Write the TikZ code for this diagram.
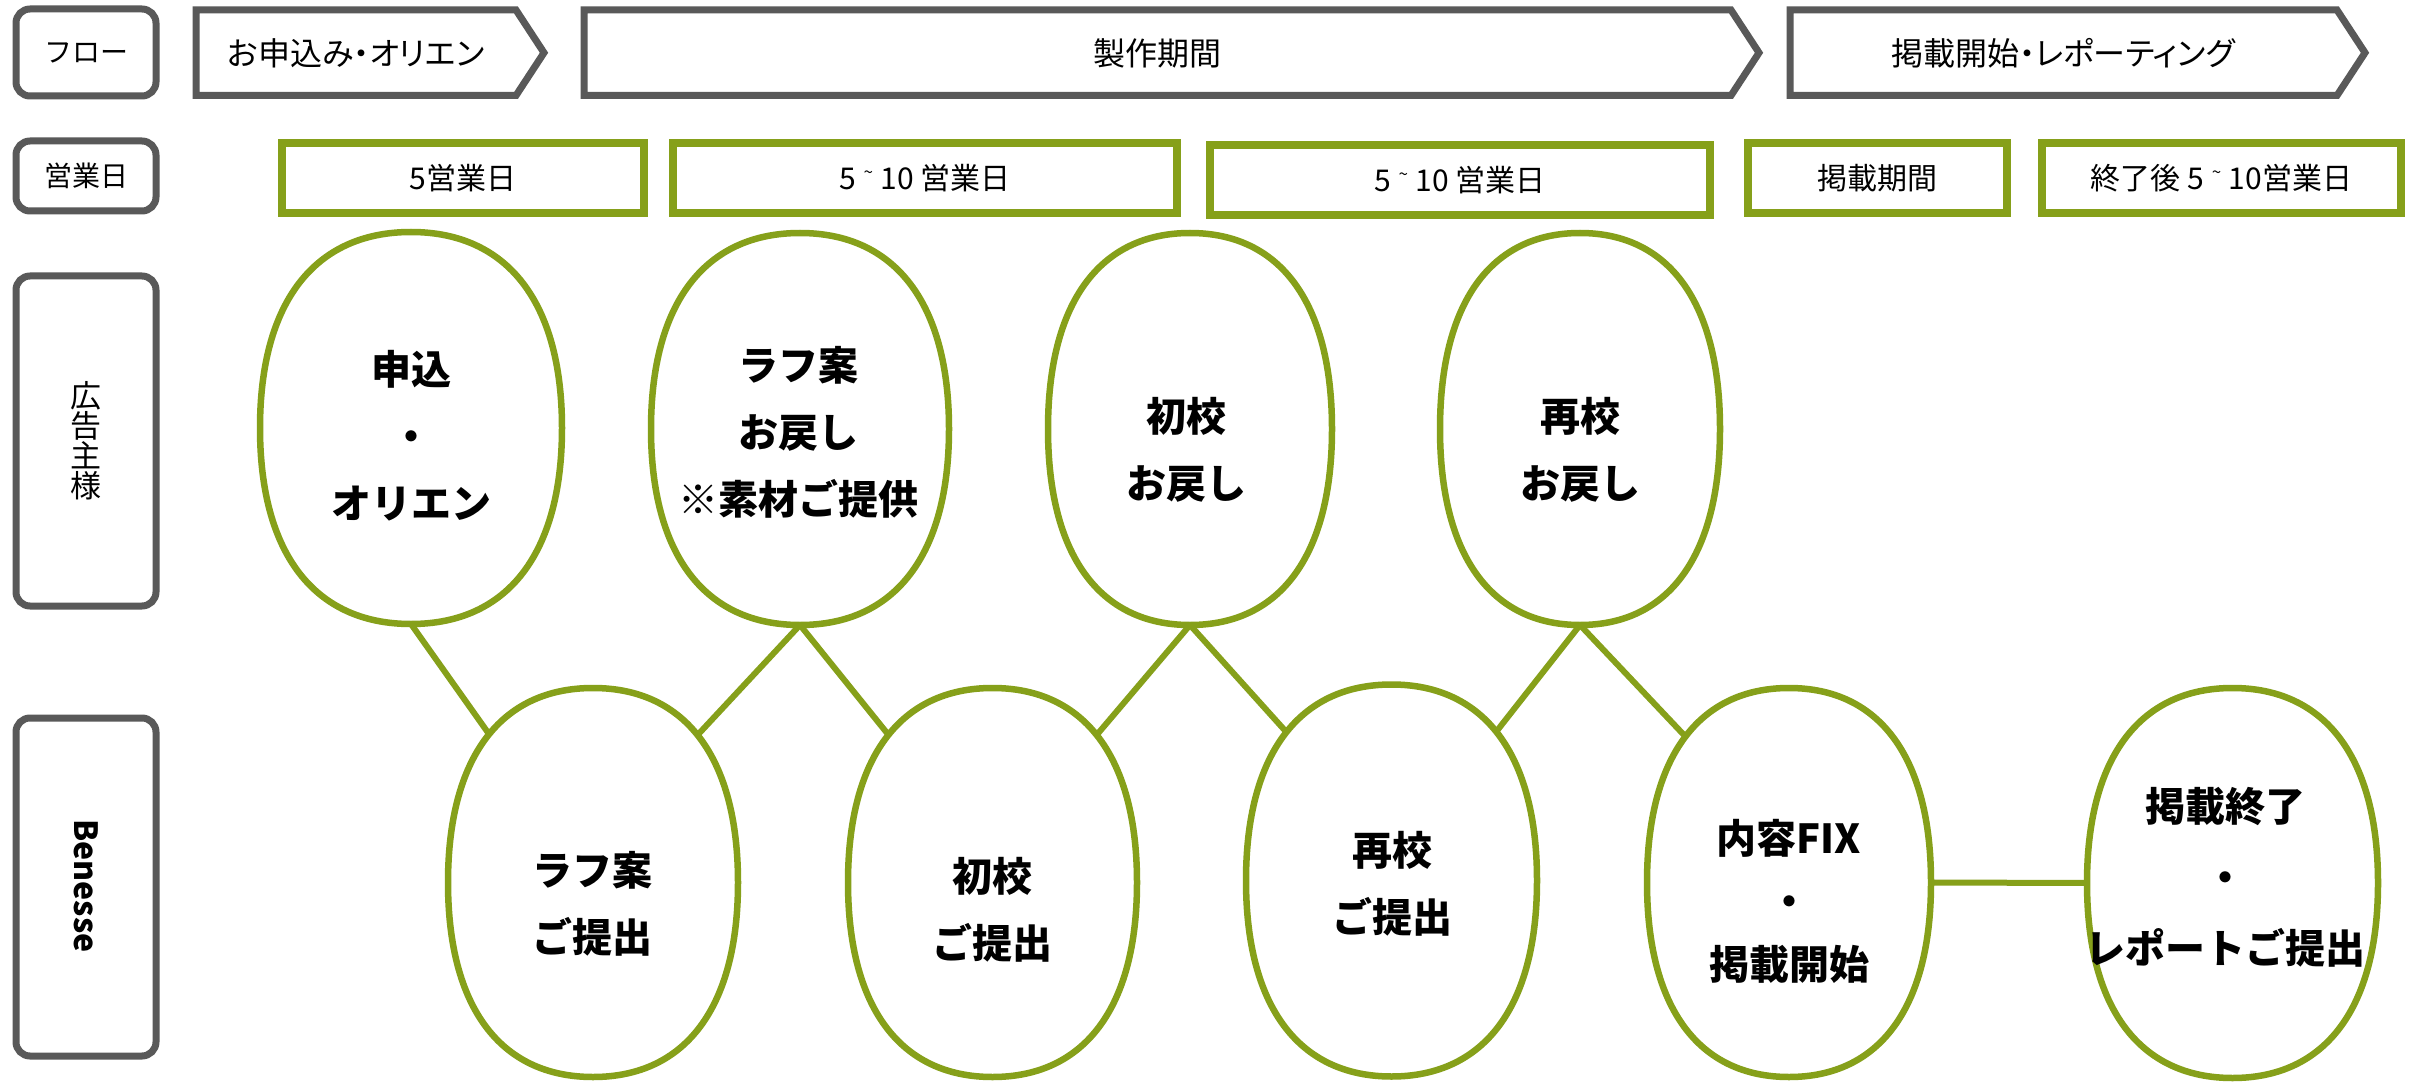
\documentclass[tikz,border=0pt]{standalone}
\usepackage{fontspec}
\setmainfont{Noto Sans CJK JP}
\newfontfamily\hdfont[RawFeature=+palt]{Noto Sans CJK JP}
\usetikzlibrary{shapes.geometric}
\definecolor{flowgray}{RGB}{89,89,89}
\definecolor{olivegreen}{RGB}{134,160,26}
\pgfdeclarelayer{connlayer}
\pgfdeclarelayer{bloblayer}
\pgfsetlayers{connlayer,bloblayer,main}
\newcommand\mytilde{\hspace{0.25em}\raisebox{0.35em}{\fontsize{17}{17}\selectfont\textasciitilde}\hspace{0.25em}}
\newcommand\blobk{0.64}
\newcommand\blobdraw[3]{%
  \path[blobline] (#1.north)
   .. controls +({\blobk*#2},0) and +(0,{-\blobk*#3}) .. (#1.east)
   .. controls +(0,{\blobk*#3}) and +({\blobk*#2},0) .. (#1.south)
   .. controls +({-\blobk*#2},0) and +(0,{\blobk*#3}) .. (#1.west)
   .. controls +(0,{-\blobk*#3}) and +({-\blobk*#2},0) .. (#1.north);}
\tikzset{
  lblbox/.style={draw=flowgray, line width=7pt, rounded corners=14pt, fill=white, inner sep=0pt,
    minimum width=140pt, font=\fontsize{28}{30}\selectfont},
  daybox/.style={draw=olivegreen, line width=7.5pt, fill=white, inner sep=0pt,
    minimum height=70pt, font=\fontsize{30}{32}\selectfont},
  chev/.style={draw=flowgray, line width=7pt, fill=white},
  hdtxt/.style={font=\hdfont\fontsize{32}{36}\selectfont, inner sep=0pt},
  blob/.style={ellipse, draw=none, inner sep=0pt, outer sep=0pt},
  blobline/.style={draw=olivegreen, line width=6.5pt, fill=white},
  blobtxt/.style={align=center, inner sep=0pt, font=\bfseries\fontsize{40}{67}\selectfont},
  conn/.style={draw=olivegreen, line width=6pt}
}
\begin{document}
\begin{tikzpicture}[x=1pt,y=-1pt]
\useasboundingbox (0,0) rectangle (2412,1083);
\begin{pgfonlayer}{connlayer}
\fill[white] (0,0) rectangle (2412,1083);
\end{pgfonlayer}

% row labels
\node[lblbox, minimum height=87pt] (flow) at (86,52.5) {フロー};
\node[lblbox, minimum height=70pt] (eigyo) at (86,176) {営業日};
\node[lblbox, minimum height=330pt, align=center, font=\fontsize{31}{30}\selectfont] (koukoku) at (86,441) {広\\告\\主\\様};
\node[lblbox, minimum height=338pt] (benesse) at (86,887) {};
\node[rotate=-90, font=\bfseries\fontsize{32}{34}\selectfont, inner sep=0pt] (bentxt) at (86,886) {Benesse};

% flow chevrons
\draw[chev] (196,10) -- (516,10) -- (544,52.75) -- (516,95.5) -- (196,95.5) -- cycle;
\node[hdtxt] (a1) at (356,53) {お申込み・オリエン};
\draw[chev] (584,10) -- (1731,10) -- (1759,52.75) -- (1731,95.5) -- (584,95.5) -- cycle;
\node[hdtxt] (a2) at (1157,53) {製作期間};
\draw[chev] (1790,10) -- (2337,10) -- (2365,52.75) -- (2337,95.5) -- (1790,95.5) -- cycle;
\node[hdtxt] (a3) at (2063,53) {掲載開始・レポーティング};

% business-day boxes
\node[daybox, minimum width=362pt] (g1) at (463,178) {5営業日};
\node[daybox, minimum width=504pt] (g2) at (925,178) {5\mytilde10 営業日};
\node[daybox, minimum width=500pt] (g3) at (1460,180) {5\mytilde10 営業日};
\node[daybox, minimum width=259pt] (g4) at (1877.5,178) {掲載期間};
\node[daybox, minimum width=359pt] (g5) at (2221.5,178) {終了後 5\mytilde10営業日};

% blobs
\node[blob, minimum width=302pt, minimum height=392pt] (T1) at (411,428) {};
\node[blob, minimum width=298pt, minimum height=392pt] (T2) at (800,429) {};
\node[blob, minimum width=284pt, minimum height=392pt] (T3) at (1190,429) {};
\node[blob, minimum width=280pt, minimum height=392pt] (T4) at (1580,429) {};
\node[blob, minimum width=290pt, minimum height=389pt] (B1) at (593,882.5) {};
\node[blob, minimum width=289pt, minimum height=389pt] (B2) at (992.5,882.5) {};
\node[blob, minimum width=291pt, minimum height=392pt] (B3) at (1391.5,880.5) {};
\node[blob, minimum width=284pt, minimum height=389pt] (B4) at (1789,882.5) {};
\node[blob, minimum width=291pt, minimum height=390pt] (B5) at (2232.5,883) {};

\begin{pgfonlayer}{bloblayer}
\blobdraw{T1}{151}{196}
\blobdraw{T2}{149}{196}
\blobdraw{T3}{142}{196}
\blobdraw{T4}{140}{196}
\blobdraw{B1}{145}{194.5}
\blobdraw{B2}{144.5}{194.5}
\blobdraw{B3}{145.5}{196}
\blobdraw{B4}{142}{194.5}
\blobdraw{B5}{145.5}{195}
\end{pgfonlayer}

\begin{pgfonlayer}{connlayer}
\draw[conn] (T1.south) -- (B1.125);
\draw[conn] (B1.55) -- (T2.south);
\draw[conn] (T2.south) -- (B2.125);
\draw[conn] (B2.55) -- (T3.south);
\draw[conn] (T3.south) -- (B3.125);
\draw[conn] (B3.55) -- (T4.south);
\draw[conn] (T4.south) -- (B4.125);
\draw[conn] (B4.east) -- (B5.west);
\end{pgfonlayer}

% blob texts
\node[blobtxt] (T1t) at (411,435.5) {申込\\・\\オリエン};
\node[blobtxt] (T2t) at (798,432) {ラフ案\\お戻し\\※素材ご提供};
\node[blobtxt] (T3t) at (1186,450) {初校\\お戻し};
\node[blobtxt] (T4t) at (1580,450) {再校\\お戻し};
\node[blobtxt] (B1t) at (592,904) {ラフ案\\ご提出};
\node[blobtxt] (B2t) at (992,910) {初校\\ご提出};
\node[blobtxt] (B3t) at (1392,884) {再校\\ご提出};
\node[blobtxt, font=\bfseries\fontsize{40}{63}\selectfont] (B4t) at (1789,901) {内容FIX\\・\\掲載開始};
\node[blobtxt, font=\bfseries\fontsize{40}{71}\selectfont] (B5t) at (2225,877) {掲載終了\\・\\レポートご提出};
\end{tikzpicture}
\end{document}
